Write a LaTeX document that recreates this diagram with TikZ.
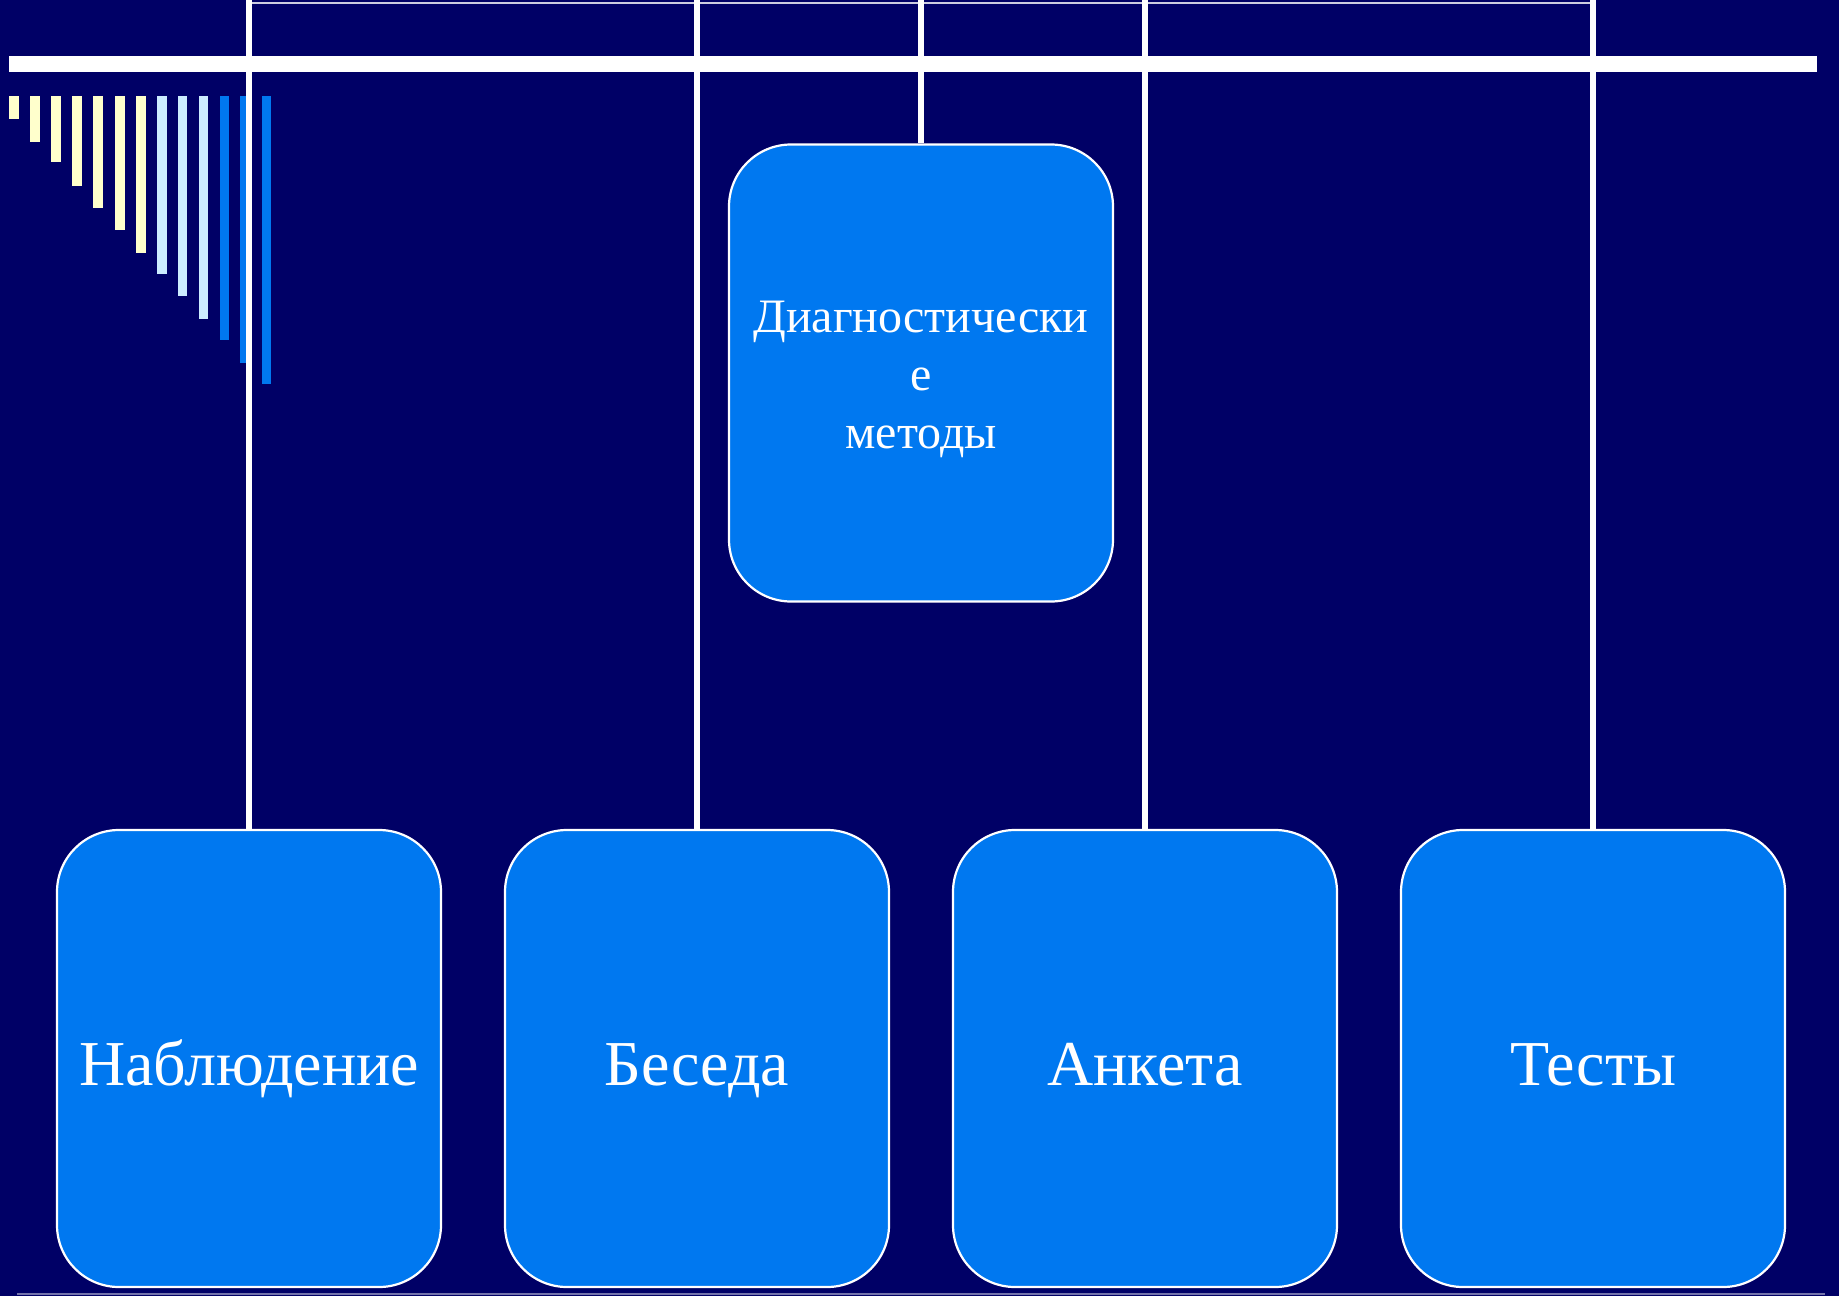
\documentclass[tikz,border=0pt]{standalone}
\usepackage{fontspec}
\setmainfont{Liberation Serif}
\definecolor{bgnavy}{HTML}{000066}
\definecolor{boxblue}{HTML}{0078F0}
\definecolor{cream}{HTML}{FFFFCC}
\definecolor{lblue}{HTML}{CCECFF}
\tikzset{
  mbox/.style={draw=white, line width=2.2pt, fill=boxblue, rounded corners=62pt,
    minimum width=384pt, minimum height=457pt, inner sep=0pt, text=white},
  bigtext/.style={font=\fontsize{64}{76}\selectfont, text height=53pt, text depth=0pt},
  midtext/.style={font=\fontsize{48}{58}\selectfont, align=center},
  conn/.style={draw=white, line width=5.5pt},
  topline/.style={draw=white!80!bgnavy, line width=2pt},
  bar/.style={draw=white, line width=16pt},
  edgeline/.style={draw=white!45!bgnavy, line width=2pt}
}
\begin{document}
\begin{tikzpicture}[x=1pt,y=-1pt]
\fill[bgnavy] (0,0) rectangle (1839,1296);
\useasboundingbox (0,0) rectangle (1839,1296);
% decorative stripes
\foreach \xa/\xb/\yb/\c in {9/19/119/cream,30/40/142/cream,51/61/162/cream,72/82/186/cream,93/103/208/cream,115/125/230/cream,136/146/253/cream,157/167/274/lblue,178/187/296/lblue,199/208/319/lblue,220/229/340/boxblue,240/250/363/boxblue,262/271/384/boxblue}
  \fill[\c] (\xa,96) rectangle (\xb,\yb);
% horizontal bar
\coordinate (barL) at (9,64);
\coordinate (barR) at (1817,64);
\draw[bar] (barL) -- (barR);
% bottom thin edge
\coordinate (edgeL) at (17,1294);
\coordinate (edgeR) at (1825,1294);
\draw[edgeline] (edgeL) -- (edgeR);
% boxes
\node[mbox, midtext] (diag) at (921,373) {};
\node[midtext, text=white] (diagtxt) at (921,379) {Диагностически\\е\\методы};
\node[mbox, bigtext] (nab) at (249,1058.5) {Наблюдение};
\node[mbox, bigtext] (bes) at (697,1058.5) {Беседа};
\node[mbox, bigtext] (ank) at (1145,1058.5) {Анкета};
\node[mbox, bigtext] (tes) at (1593,1058.5) {Тесты};
% top connectors
\coordinate (t1) at (249,2.5);
\coordinate (t2) at (697,2.5);
\coordinate (t3) at (921,2.5);
\coordinate (t4) at (1145,2.5);
\coordinate (t5) at (1593,2.5);
\draw[topline] (t1) -- (t5);
\draw[conn] (t1 |- 0,0) -- (nab.north);
\draw[conn] (t2 |- 0,0) -- (bes.north);
\draw[conn] (t3 |- 0,0) -- (diag.north);
\draw[conn] (t4 |- 0,0) -- (ank.north);
\draw[conn] (t5 |- 0,0) -- (tes.north);
\end{tikzpicture}
\end{document}
